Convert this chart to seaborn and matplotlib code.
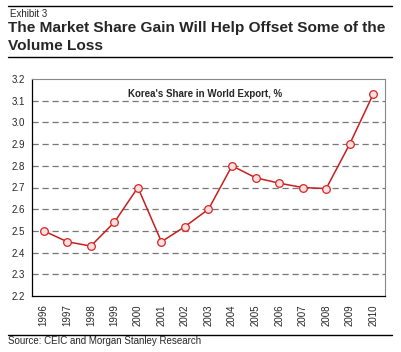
import numpy as np
import pandas as pd
import matplotlib.pyplot as plt
import matplotlib.lines as mlines
import seaborn as sns

years = ['1996','1997','1998','1999','2000','2001','2002','2003','2004','2005',
         '2006','2007','2008','2009','2010']
share = [2.50,2.45,2.43,2.54,2.70,2.45,2.52,2.60,2.80,2.745,2.72,2.70,2.695,2.90,3.13]
y_ticks = [2.2,2.3,2.4,2.5,2.6,2.7,2.8,2.9,3.0,3.1,3.2]

sns.set_style('white')
plt.rcParams['font.family'] = ['Liberation Sans', 'DejaVu Sans']

df = pd.DataFrame({'year': years, 'share': share})

fig = plt.figure(figsize=(4.02,3.52), dpi=100)
ax = fig.add_axes([32/402, 1-296/352, 353/402, 217/352])

sns.lineplot(data=df, x='year', y='share', ax=ax, sort=False, color='#c81e1e',
             lw=1.1, marker='o', markersize=5.5, markerfacecolor='#fbe2e2',
             markeredgecolor='#dd2222', markeredgewidth=0.9)

ax.set_xlim(-0.5, len(years)-0.5)
ax.set_ylim(2.2, 3.2)
ax.set_yticks(y_ticks)
ax.set_yticklabels([f'{v:.1f}' for v in y_ticks], fontsize=7)
ax.set_xticks(range(len(years)))
ax.set_xticklabels(years, rotation=90, fontsize=7)
ax.set_xlabel('')
ax.set_ylabel('')
for v in y_ticks[1:-1]:
    ax.axhline(v, color='#777777', lw=0.9, ls=(0,(5,3)), zorder=0)

ax.tick_params(axis='both', direction='out', length=3, width=0.8, color='black', pad=2)
ax.tick_params(axis='x', length=4)
for side in ['top','right']:
    ax.spines[side].set_color('#888888')
    ax.spines[side].set_linewidth(0.8)
for side in ['left','bottom']:
    ax.spines[side].set_color('black')
    ax.spines[side].set_linewidth(0.9)
ax.text(0.49, 0.955, "Korea's Share in World Export, %", transform=ax.transAxes,
        ha='center', va='top', fontsize=7, fontweight='bold')

# header / footer
for yy in [6, 57, 335]:
    fig.add_artist(mlines.Line2D([8/402, 392/402], [1-yy/352, 1-yy/352],
                                 color='black', lw=1.0))
fig.text(10/402, 1-14/352, 'Exhibit 3', fontsize=7, va='center')
fig.text(8/402, 1-28/352, 'The Market Share Gain Will Help Offset Some of the',
         fontsize=11.1, fontweight='bold', va='center')
fig.text(8/402, 1-46/352, 'Volume Loss', fontsize=11.1, fontweight='bold', va='center')
fig.text(8/402, 1-341/352, 'Source: CEIC and Morgan Stanley Research', fontsize=7, va='center')

fig.savefig('out.png', dpi=100)
